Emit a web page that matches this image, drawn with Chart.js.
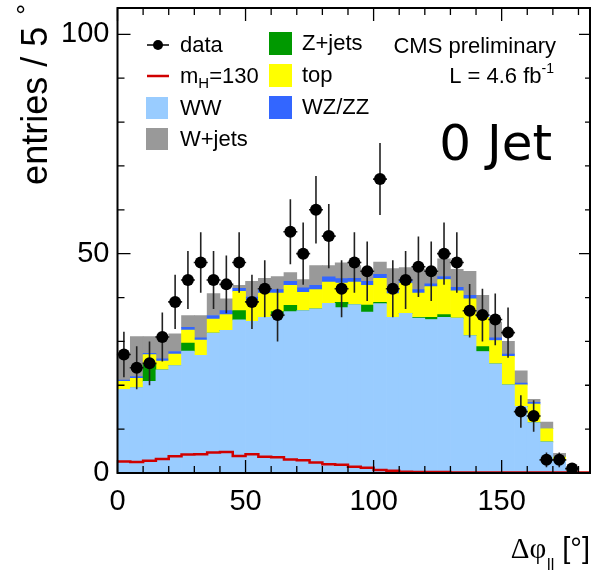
<!DOCTYPE html>
<html>
<head>
<meta charset="utf-8">
<script src="https://cdn.jsdelivr.net/npm/chart.js@4.4.1/dist/chart.umd.min.js"></script>
<style>
  html, body { margin: 0; padding: 0; background: #fff; }
</style>
</head>
<body>
<canvas id="chart" width="596" height="575"></canvas>
<script>
// bins of 5 degrees in delta phi(ll)
const binWidth = 5;
const binLow = [0, 5, 10, 15, 20, 25, 30, 35, 40, 45, 50, 55, 60, 65, 70, 75, 80, 85,
                90, 95, 100, 105, 110, 115, 120, 125, 130, 135, 140, 145, 150, 155, 160, 165, 170, 175];

// stacked backgrounds (bottom -> top)
const ww    = [19.1, 19.5, 20.9, 23.5, 24.5, 27.8, 26.8, 31.9, 32.5, 34.9, 34.6, 35.5, 36.1, 36.8, 37.0, 37.4, 38.7, 37.7,
               38.4, 36.7, 38.6, 35.5, 36.4, 35.3, 35.0, 35.5, 35.3, 31.3, 27.7, 24.9, 20.1, 15.2, 11.5, 7.1, 2.8, 0.3];
const zjets = [0, 0, 3.9, 0, 0, 1.8, 0, 0, 0, 2.1, 0, 0, 0.7, 1.4, 0, 0, 0, 1.2,
               0, 1.6, 0.3, 0, 0, 0.2, 0.5, 0.6, 0, 0, 1.1, 0, 0, 0, 0, 0, 0, 0];
const ttop  = [1.8, 2.1, 2.2, 2.0, 2.6, 3.0, 3.5, 3.2, 3.6, 4.4, 4.7, 5.5, 4.2, 4.6, 4.2, 4.4, 4.8, 4.4,
               5.1, 4.5, 5.5, 5.4, 6.9, 5.5, 7.0, 8.0, 6.2, 8.4, 6.7, 5.3, 6.5, 4.9, 4.2, 3.0, 0.9, 0.1];
const wzzz  = [0.3, 0.4, 0.3, 0.5, 0.6, 0.6, 0.5, 0.8, 0.9, 0.7, 0.8, 0.8, 0.8, 0.9, 1.0, 1.0, 1.2, 1.0,
               0.9, 0.9, 0.9, 1.1, 0.8, 0.8, 0.6, 0.7, 0.8, 0.8, 0.6, 0.6, 0.5, 0.4, 0.4, 0.1, 0.1, 0];
const wjets = [5.2, 9.1, 3.8, 5.1, 4.0, 2.7, 5.1, 5.0, 2.7, 0.7, 3.6, 2.6, 3.0, 2.0, 1.9, 4.5, 2.6, 3.6,
               2.9, 2.3, 2.8, 4.6, 2.7, 4.7, 2.8, 4.0, 4.1, 5.5, 4.4, 3.6, 2.9, 2.8, 0.7, 1.4, 0.7, 0.1];

// Higgs signal m_H = 130
const signal = [2.7, 2.6, 2.5, 2.8, 3.2, 3.8, 4.2, 4.3, 4.7, 4.8, 3.9, 4.3, 3.7, 3.6, 3.1, 2.9, 2.4, 2.0,
                1.9, 1.4, 1.2, 0.7, 0.5, 0.3, 0.2, 0.2, 0.2, 0.1, 0.1, 0.1, 0.1, 0.1, 0.1, 0.1, 0.1, 0.1];

// observed data and its errors
const obs    = [27, 24, 25, 31, 39, 44, 48, 44, 43, 48, 39, 42, 36, 55, 50, 60, 54, 42,
                48, 46, 67, 42, 44, 47, 46, 50, 48, 37, 36, 35, 32, 14, 13, 3, 3, 1];
const obsErr = [5.2, 4.9, 5.0, 5.6, 6.2, 6.6, 6.9, 6.6, 6.6, 6.9, 6.2, 6.5, 6.0, 7.4, 7.1, 7.7, 7.3, 6.5,
                6.9, 6.8, 8.2, 6.5, 6.6, 6.9, 6.8, 7.1, 6.9, 6.1, 6.0, 5.9, 5.7, 3.7, 3.6, 1.7, 1.7, 1.0];

const xTicks = [0, 50, 100, 150];
const yTicks = [0, 50, 100];
const xMax = 184.5;
const yMax = 106;

const colors = {
  ww: '#99ccff', zjets: '#009900', ttop: '#ffff00', wzzz: '#3366ff', wjets: '#999999', signal: '#d00000'
};

const centers = binLow.map(v => v + binWidth / 2);
const histo = arr => centers.map((c, i) => ({ x: c, y: arr[i] }));
const sigLine = binLow.map((v, i) => ({ x: v, y: signal[i] }));
sigLine.push({ x: xMax, y: signal[signal.length - 1] });

function bar(label, arr, color) {
  return {
    type: 'bar', label: label, data: histo(arr), backgroundColor: color,
    borderWidth: 0, barPercentage: 1, categoryPercentage: 1, stack: 'bg', order: 0
  };
}

// no extra room for edge tick labels, the frame is fixed
function noPad(s) {
  s.paddingTop = 0; s.paddingBottom = 0; s.paddingLeft = 0; s.paddingRight = 0;
}

const SANS = '"Liberation Sans", Arial, Helvetica, sans-serif';

const rootStyle = {
  id: 'rootStyle',
  beforeDatasetDraw(chart, args) {
    if (args.index !== 6) return;
    const { ctx } = chart;
    const x = chart.scales.x, y = chart.scales.y;
    ctx.save();
    ctx.strokeStyle = '#222';
    ctx.lineWidth = 1.6;
    obs.forEach((n, i) => {
      const px = x.getPixelForValue(centers[i]);
      const py = y.getPixelForValue(n);
      ctx.beginPath();
      ctx.moveTo(px, y.getPixelForValue(Math.max(0, n - obsErr[i])));
      ctx.lineTo(px, y.getPixelForValue(n + obsErr[i]));
      ctx.moveTo(px - 7, py);
      ctx.lineTo(px + 7, py);
      ctx.stroke();
    });
    ctx.restore();
  },
  afterDatasetsDraw(chart) {
    const { ctx, chartArea: a } = chart;
    const x = chart.scales.x, y = chart.scales.y;
    ctx.save();
    ctx.strokeStyle = '#000';
    ctx.lineWidth = 1.3;
    ctx.beginPath();
    for (let v = 0; v <= 180; v += 10) {
      const px = x.getPixelForValue(v);
      const len = v % 50 === 0 ? 13 : 7;
      ctx.moveTo(px, a.bottom); ctx.lineTo(px, a.bottom - len);
      ctx.moveTo(px, a.top); ctx.lineTo(px, a.top + len);
    }
    for (let v = 0; v <= 100; v += 10) {
      const py = y.getPixelForValue(v);
      const len = v % 50 === 0 ? 13 : 7;
      ctx.moveTo(a.left, py); ctx.lineTo(a.left + len, py);
      ctx.moveTo(a.right, py); ctx.lineTo(a.right - (v % 50 === 0 ? 11 : 5), py);
    }
    ctx.stroke();
    ctx.lineWidth = 2;
    ctx.strokeRect(a.left, a.top, a.right - a.left, a.bottom - a.top);
    ctx.restore();
  },
  afterDraw(chart) {
    const { ctx, chartArea: a } = chart;
    ctx.save();
    ctx.fillStyle = '#000';
    ctx.textBaseline = 'middle';

    // legend, column 1
    ctx.font = '22px ' + SANS;
    ctx.textAlign = 'left';
    ctx.strokeStyle = '#000';
    ctx.lineWidth = 1.5;
    ctx.beginPath(); ctx.moveTo(147, 45); ctx.lineTo(169, 45); ctx.stroke();
    ctx.beginPath(); ctx.arc(158, 45, 5, 0, Math.PI * 2); ctx.fill();
    ctx.fillText('data', 180, 46);

    ctx.strokeStyle = colors.signal; ctx.lineWidth = 2.5;
    ctx.beginPath(); ctx.moveTo(147, 76); ctx.lineTo(169, 76); ctx.stroke();
    ctx.fillText('m', 180, 77);
    const w = ctx.measureText('m').width;
    ctx.font = '15px ' + SANS;
    ctx.fillText('H', 180 + w, 84);
    const wh = ctx.measureText('H').width;
    ctx.font = '22px ' + SANS;
    ctx.fillText('=130', 180 + w + wh, 77);

    ctx.fillStyle = colors.ww; ctx.fillRect(146, 97, 22, 22);
    ctx.fillStyle = colors.wjets; ctx.fillRect(146, 128, 22, 22);
    ctx.fillStyle = '#000';
    ctx.fillText('WW', 180, 109);
    ctx.fillText('W+jets', 180, 140);

    // legend, column 2
    ctx.fillStyle = colors.zjets; ctx.fillRect(269, 32, 23, 23);
    ctx.fillStyle = colors.ttop; ctx.fillRect(269, 64, 23, 23);
    ctx.fillStyle = colors.wzzz; ctx.fillRect(269, 96, 23, 23);
    ctx.fillStyle = '#000';
    ctx.fillText('Z+jets', 302, 44);
    ctx.fillText('top', 302, 76);
    ctx.fillText('WZ/ZZ', 302, 108);

    // labels
    ctx.textAlign = 'right';
    ctx.fillText('CMS preliminary', 556, 47);
    ctx.font = '14px ' + SANS;
    ctx.fillText('-1', 554, 69);
    const ws = ctx.measureText('-1').width;
    ctx.font = '22px ' + SANS;
    ctx.fillText('L = 4.6 fb', 554 - ws, 77);

    ctx.textBaseline = 'alphabetic';
    ctx.font = '50px "DejaVu Sans", sans-serif';
    ctx.fillText('0 Jet', 552, 160);

    // x title
    ctx.font = '29px ' + SANS;
    ctx.fillText(' [°]', a.right, 558);
    let xr = a.right - ctx.measureText(' [°]').width;
    ctx.font = '16px ' + SANS;
    ctx.fillText('ll', xr, 570);
    xr -= ctx.measureText('ll').width + 1;
    ctx.font = '29px "Liberation Serif", "Times New Roman", serif';
    ctx.fillText('Δφ', xr, 558);

    // y title
    ctx.translate(37, 4);
    ctx.rotate(-Math.PI / 2);
    ctx.textBaseline = 'middle';
    ctx.textAlign = 'right';
    ctx.font = '27px ' + SANS;
    ctx.fillText('°', 0, -8);
    const wd = ctx.measureText('°').width + 12;
    ctx.font = '36px ' + SANS;
    ctx.fillText('entries / 5', -wd, 0);
    ctx.restore();
  }
};

new Chart(document.getElementById('chart'), {
  data: {
    datasets: [
      bar('WW', ww, colors.ww),
      bar('Z+jets', zjets, colors.zjets),
      bar('top', ttop, colors.ttop),
      bar('WZ/ZZ', wzzz, colors.wzzz),
      bar('W+jets', wjets, colors.wjets),
      {
        type: 'line', label: 'm_H=130', data: sigLine, stepped: 'after',
        borderColor: colors.signal, borderWidth: 2.5, pointRadius: 0, fill: false,
        stack: 'sig', order: -1
      },
      {
        type: 'scatter', label: 'data', data: histo(obs), showLine: false,
        pointRadius: 6, pointBackgroundColor: '#000', pointBorderWidth: 0,
        stack: 'dat', order: -2
      }
    ]
  },
  options: {
    responsive: false,
    animation: false,
    events: [],
    layout: { padding: { top: 8, right: 5, left: 0, bottom: 0 } },
    plugins: { legend: { display: false }, tooltip: { enabled: false } },
    scales: {
      x: {
        type: 'linear', min: 0, max: xMax, stacked: true, offset: false,
        grid: { display: false, drawTicks: false }, border: { display: false },
        afterBuildTicks: s => { s.ticks = xTicks.map(v => ({ value: v })); },
        afterFit: s => { s.height = 102; noPad(s); },
        ticks: { font: { family: SANS, size: 29 }, color: '#000', padding: 12, maxRotation: 0, autoSkip: false }
      },
      y: {
        type: 'linear', min: 0, max: yMax, stacked: true,
        grid: { display: false, drawTicks: false }, border: { display: false },
        afterBuildTicks: s => { s.ticks = yTicks.map(v => ({ value: v })); },
        afterFit: s => { s.width = 117.5; noPad(s); },
        ticks: { font: { family: SANS, size: 29 }, color: '#000', padding: 8 }
      }
    }
  },
  plugins: [rootStyle]
});
</script>
</body>
</html>
